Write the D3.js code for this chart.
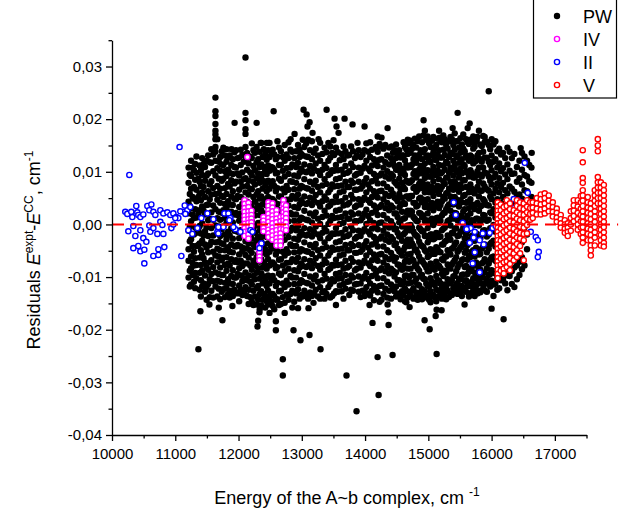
<!DOCTYPE html>
<html lang="en">
<head>
<meta charset="utf-8">
<title>Residuals of the A~b complex</title>
<script src="https://d3js.org/d3.v7.min.js"></script>
<style>
  body { margin: 0; background: #fff; }
  text { font-family: Arial, "Liberation Sans", sans-serif; fill: #000; }
  .tick text { font-size: 15px; }
  .axis path, .axis line { stroke: #000; stroke-width: 1.3; }
  .title { font-size: 18px; }
  .legend text { font-size: 18px; }
</style>
</head>
<body>
<div id="vis"></div>
<script>
const width = 632, height = 515;

// tick values
const xTicks = [10000, 11000, 12000, 13000, 14000, 15000, 16000, 17000];
const xMinor = [10500, 11500, 12500, 13500, 14500, 15500, 16500, 17500];
const yTicks = [-0.04, -0.03, -0.02, -0.01, 0.00, 0.01, 0.02, 0.03];
const yMinor = [-0.035, -0.025, -0.015, -0.005, 0.005, 0.015, 0.025, 0.035];

const seriesNames = ["PW", "IV", "II", "V"];

// PW : [energy, [residuals at that energy]]
const pwBands = [
  [11210, [.0108,.0079,.0043,.0021,-.0012,-.0047,-.0069,-.0101]],
  [11250, [.0121,.0092,.0068,.0031,.0006,-.0028,-.0061,-.0083,-.0114]],
  [11295, [.0103,.0071,.0049,.0012,-.0019,-.0052,-.0078,-.0109]],
  [11335, [.0129,.0098,.0066,.0044,.0013,-.0016,-.0041,-.0077,-.0102]],
  [11366, [.0087,.0052,.0021,-.0008,-.0039]],
  [11385, [.0112,.0081,.0058,.0027,-.0003,-.0036,-.0063,-.0092,-.0124]],
  [11425, [.0126,.0094,.0061,.0034,.0002,-.0031,-.0057,-.0088,-.0118]],
  [11470, [.0109,.0083,.0052,.0019,-.0013,-.0038,-.0072,-.0097,-.0128]],
  [11520, [.0131,.0097,.0063,.0038,.0008,-.0022,-.0053,-.0086,-.0113]],
  [11570, [.0143,.0117,.0082,.0057,.0023,-.0007,-.0033,-.0068,-.0094,-.0126]],
  [11635, [.0241,.0215,.0206,.0191,.0178,.0171,.0162,.0147,.0138,.0121,.0093,.0058,.0029,-.0002,-.0034,-.0059,-.0091,-.0118]],
  [11665, [.0162,.0107,.0073,.0047,.0012,-.0017,-.0046,-.0072,-.0107,-.0137]],
  [11710, [.0128,.0102,.0068,.0041,.0009,-.0022,-.0049,-.0082,-.0109,-.0142]],
  [11760, [.0146,.0113,.0087,.0052,.0027,-.0004,-.0037,-.0063,-.0096,-.0123]],
  [11810, [.0143,.0119,.0092,.0058,.0031,.0003,-.0028,-.0062,-.0088,-.0121]],
  [11860, [.0131,.0098,.0072,.0038,.0011,-.0021,-.0052,-.0078,-.0112,-.0139]],
  [11910, [.0124,.0096,.0063,.0037,.0004,-.0027,-.0053,-.0087,-.0113,-.0136]],
  [11960, [.0141,.0108,.0081,.0048,.0022,-.0011,-.0042,-.0068,-.0101,-.0129]],
  [12010, [.0127,.0093,.0066,.0033,.0007,-.0026,-.0057,-.0083,-.0116,-.0146]],
  [12060, [.0132,.0099,.0072,.0039,.0011,-.0019,-.0051,-.0079,-.0108,-.0134]],
  [12110, [.0317,.0212,.0198,.0181,.0172,.0147,.0122,.0088,.0061,.0029,.0002,-.0032,-.0058,-.0091,-.0119]],
  [12160, [.0116,.0083,.0057,.0024,-.0006,-.0036,-.0063,-.0097,-.0124,-.0151]],
  [12210, [.0154,.0126,.0093,.0067,.0033,.0006,-.0027,-.0054,-.0086,-.0114,-.0147]],
  [12260, [.0136,.0103,.0076,.0043,.0017,-.0016,-.0043,-.0077,-.0104,-.0137]],
  [12310, [.0124,.0097,.0063,.0036,.0003,-.0024,-.0056,-.0083,-.0117,-.0143,-.0183]],
  [12360, [.0155,.0114,.0087,.0053,.0027,-.0006,-.0033,-.0066,-.0093,-.0127,-.0154]],
  [12400, [.0143,.0109,.0082,.0048,.0021,-.0012,-.0038,-.0072,-.0099,-.0132]],
  [12445, [.0155,.0123,.0096,.0063,.0036,.0003,-.0024,-.0057,-.0084,-.0117,-.0146]],
  [12490, [.0155,.0128,.0102,.0068,.0042,.0008,-.0018,-.0052,-.0078,-.0112,-.0138,-.0168]],
  [12540, [.0142,.0108,.0082,.0048,.0022,-.0012,-.0038,-.0072,-.0098,-.0132,-.0155]],
  [12590, [.0124,.0097,.0063,.0037,.0003,-.0023,-.0057,-.0083,-.0117,-.0143,-.0184,-.0201]],
  [12640, [.0146,.0113,.0087,.0053,.0027,-.0007,-.0033,-.0067,-.0093,-.0127,-.0153]],
  [12700, [.0128,.0102,.0068,.0042,.0008,-.0018,-.0052,-.0078,-.0112,-.0138,-.0256,-.0287]],
  [12760, [.0133,.0107,.0073,.0047,.0013,-.0013,-.0047,-.0073,-.0107,-.0133]],
  [12820, [.0142,.0108,.0082,.0048,.0022,-.0012,-.0038,-.0072,-.0098,-.0132]],
  [12880, [.0126,.0093,.0067,.0033,.0007,-.0027,-.0053,-.0087,-.0113,-.0147]],
  [12940, [.0151,.0117,.0091,.0057,.0031,-.0003,-.0029,-.0063,-.0089,-.0123,-.0159]],
  [12990, [.0134,.0106,.0073,.0046,.0013,-.0014,-.0047,-.0074,-.0106,-.0134]],
  [13040, [.0147,.0114,.0086,.0053,.0026,-.0007,-.0034,-.0066,-.0094,-.0126]],
  [13100, [.0161,.0128,.0101,.0068,.0041,.0008,-.0019,-.0052,-.0079,-.0112,-.0141]],
  [13160, [.0158,.0124,.0097,.0064,.0037,.0004,-.0023,-.0056,-.0083,-.0116,-.0136]],
  [13220, [.0144,.0116,.0083,.0056,.0023,-.0004,-.0037,-.0064,-.0097,-.0124]],
  [13290, [.0155,.0121,.0094,.0061,.0034,.0001,-.0026,-.0059,-.0086,-.0119,-.0141]],
  [13360, [.0146,.0113,.0086,.0053,.0026,-.0007,-.0034,-.0067,-.0094,-.0127,-.0141]],
  [13420, [.0155,.0121,.0094,.0061,.0034,.0001,-.0026,-.0059,-.0086,-.0119]],
  [13480, [.0136,.0103,.0076,.0043,.0016,-.0017,-.0044,-.0077,-.0104,-.0136]],
  [13540, [.0146,.0113,.0086,.0053,.0026,-.0007,-.0034,-.0067,-.0094,-.0127,-.0153]],
  [13600, [.0122,.0088,.0061,.0028,.0001,-.0032,-.0059,-.0092,-.0116]],
  [13660, [.0148,.0124,.0096,.0063,.0036,.0003,-.0024,-.0057,-.0084,-.0113]],
  [13720, [.0131,.0098,.0071,.0038,.0011,-.0022,-.0049,-.0082,-.0109]],
  [13780, [.0148,.0116,.0083,.0056,.0023,-.0004,-.0037,-.0064,-.0097,-.0124]],
  [13840, [.0126,.0093,.0066,.0033,.0006,-.0027,-.0054,-.0087,-.0114]],
  [13900, [.0141,.0108,.0081,.0048,.0021,-.0012,-.0039,-.0072,-.0099,-.0128]],
  [13960, [.0133,.0106,.0073,.0046,.0013,-.0014,-.0047,-.0074,-.0103,-.0126]],
  [14020, [.0154,.0121,.0088,.0061,.0028,.0001,-.0032,-.0059,-.0092,-.0119]],
  [14080, [.0156,.0128,.0101,.0068,.0041,.0008,-.0019,-.0052,-.0079,-.0112,-.0135]],
  [14140, [.0124,.0096,.0063,.0036,.0003,-.0024,-.0057,-.0084,-.0117,-.0144]],
  [14200, [.0167,.0138,.0111,.0078,.0051,.0018,-.0009,-.0042,-.0069,-.0102,-.0129]],
  [14260, [.0165,.0124,.0097,.0064,.0037,.0004,-.0023,-.0056,-.0083,-.0116,-.0143]],
  [14320, [.0151,.0118,.0091,.0058,.0031,-.0002,-.0029,-.0062,-.0089,-.0122]],
  [14380, [.0146,.0114,.0087,.0054,.0027,-.0006,-.0033,-.0066,-.0093,-.0126]],
  [14440, [.0136,.0119,.0092,.0059,.0032,-.0001,-.0028,-.0061,-.0088,-.0121]],
  [14490, [.0152,.0126,.0104,.0078,.0049,.0021,-.0008,-.0036,-.0063,-.0091,-.0118,-.0137]],
  [14540, [.0141,.0113,.0087,.0058,.0032,.0004,-.0023,-.0051,-.0077,-.0106,-.0131]],
  [14585, [.0131,.0106,.0079,.0051,.0024,-.0004,-.0031,-.0059,-.0086,-.0114,-.0127]],
  [14630, [.0147,.0122,.0094,.0067,.0039,.0012,-.0016,-.0043,-.0071,-.0098,-.0122,-.0146]],
  [14675, [.0161,.0134,.0108,.0081,.0053,.0026,-.0002,-.0029,-.0057,-.0084,-.0112,-.0139]],
  [14720, [.0159,.0136,.0109,.0081,.0054,.0026,-.0001,-.0029,-.0056,-.0084,-.0111,-.0136]],
  [14765, [.0151,.0124,.0096,.0069,.0041,.0014,-.0014,-.0041,-.0069,-.0096,-.0121,-.0141]],
  [14810, [.0146,.0117,.0089,.0062,.0034,.0007,-.0021,-.0048,-.0076,-.0103,-.0129]],
  [14855, [.0167,.0132,.0104,.0077,.0049,.0022,-.0006,-.0033,-.0061,-.0088,-.0116,-.0134]],
  [14900, [.0156,.0124,.0097,.0069,.0042,.0014,-.0013,-.0041,-.0068,-.0096,-.0123,-.0142]],
  [14945, [.0178,.0143,.0116,.0088,.0061,.0033,.0006,-.0022,-.0049,-.0077,-.0104,-.0127]],
  [14990, [.0161,.0131,.0103,.0076,.0048,.0021,-.0007,-.0034,-.0062,-.0089,-.0117,-.0136]],
  [15035, [.0147,.0118,.0091,.0063,.0036,.0008,-.0019,-.0047,-.0074,-.0102,-.0127,-.0148]],
  [15080, [.0166,.0137,.0109,.0082,.0054,.0027,-.0001,-.0028,-.0056,-.0083,-.0111,-.0134]],
  [15125, [.0151,.0122,.0094,.0067,.0039,.0012,-.0016,-.0043,-.0071,-.0098,-.0124,-.0146]],
  [15170, [.0178,.0141,.0113,.0086,.0058,.0031,.0003,-.0024,-.0052,-.0079,-.0107,-.0126]],
  [15215, [.0156,.0127,.0099,.0072,.0044,.0017,-.0011,-.0038,-.0066,-.0093,-.0119,-.0141]],
  [15260, [.0162,.0132,.0104,.0077,.0049,.0022,-.0006,-.0033,-.0061,-.0088,-.0114,-.0134]],
  [15305, [.0144,.0116,.0089,.0061,.0034,.0006,-.0021,-.0049,-.0076,-.0104,-.0126]],
  [15350, [.0166,.0136,.0108,.0081,.0053,.0026,-.0002,-.0029,-.0057,-.0084,-.0112,-.0131]],
  [15395, [.0151,.0121,.0093,.0066,.0038,.0011,-.0017,-.0044,-.0072,-.0099,-.0121]],
  [15440, [.0158,.0131,.0103,.0076,.0048,.0021,-.0007,-.0034,-.0062,-.0089,-.0114,-.0127]],
  [15485, [.0146,.0117,.0089,.0062,.0034,.0007,-.0021,-.0048,-.0076,-.0103,-.0121]],
  [15530, [.0152,.0124,.0097,.0069,.0042,.0014,-.0013,-.0041,-.0068,-.0096,-.0117,-.0136]],
  [15575, [.0139,.0111,.0084,.0056,.0029,.0001,-.0026,-.0054,-.0081,-.0107,-.0124]],
  [15620, [.0156,.0126,.0098,.0071,.0043,.0016,-.0012,-.0039,-.0067,-.0094,-.0116]],
  [15665, [.0161,.0131,.0103,.0076,.0048,.0021,-.0007,-.0034,-.0062,-.0089,-.0112,-.0134]],
  [15710, [.0167,.0144,.0116,.0089,.0061,.0034,.0006,-.0021,-.0049,-.0076,-.0102,-.0121]],
  [15755, [.0158,.0121,.0093,.0066,.0038,.0011,-.0017,-.0044,-.0072,-.0097,-.0116]],
  [15800, [.0178,.0136,.0108,.0081,.0053,.0026,-.0002,-.0029,-.0057,-.0084,-.0108,-.0126]],
  [15845, [.0149,.0119,.0091,.0064,.0036,.0009,-.0019,-.0046,-.0074,-.0099,-.0112]],
  [15890, [.0156,.0127,.0099,.0072,.0044,.0017,-.0011,-.0038,-.0066,-.0091,-.0113,-.0125]],
  [15955, [.0253,.0151,.0119,.0091,.0064,.0036,.0009,-.0019,-.0046,-.0074,-.0096,-.0112]],
  [16000, [.0131,.0103,.0076,.0048,.0021,-.0007,-.0034,-.0062,-.0087,-.0107,-.0160]],
  [16060, [.0158,.0124,.0096,.0068,.0041,.0013,-.0014,-.0042,-.0069,-.0093,-.0112]],
  [16120, [.0144,.0116,.0088,.0061,.0033,.0006,-.0022,-.0049,-.0077,-.0098,-.0121]],
  [16180, [.0136,.0107,.0079,.0052,.0024,-.0003,-.0031,-.0058,-.0086,-.0104]],
  [16250, [.0146,.0114,.0086,.0059,.0031,.0004,-.0024,-.0051,-.0079,-.0097,-.0125]],
  [16320, [.0126,.0096,.0068,.0041,.0013,-.0014,-.0042,-.0069,-.0089,-.0113]],
  [16400, [.0109,.0081,.0054,.0026,-.0001,-.0029,-.0056,-.0078,-.0104]],
  [16480, [.0136,.0104,.0076,.0049,.0021,-.0006,-.0034,-.0062,-.0085]],
  [16560, [.0121,.0091,.0063,.0036,.0008,-.0019,-.0047]],
  [16630, [.0108,.0079,.0052,.0028]]
];

// PW, further lines read between the bands above
const pwBandsFill = [
  [11230, [.0095,.0058,.0035,-.0004,-.0032,-.0088,-.0118]],
  [11273, [.0108,.0052,.0019,-.0041,-.0073,-.0096]],
  [11315, [.0115,.0085,.0029,-.0006,-.0064,-.0092,-.0121]],
  [11405, [.0103,.0073,.0046,-.0017,-.0049,-.0077,-.0106,-.0137]],
  [11447, [.0115,.0071,.0026,-.0021,-.0064,-.0112]],
  [11495, [.0121,.0093,.0037,-.0006,-.0044,-.0081,-.0119,-.0143]],
  [11545, [.0118,.0076,.0048,.0011,-.0039,-.0072,-.0104,-.0138]],
  [11600, [.0133,.0101,.0069,.0036,.0009,-.0021,-.0052,-.0081,-.0108,-.0139]],
  [11688, [.0119,.0087,.0059,.0024,-.0004,-.0033,-.0061,-.0094,-.0122,-.0158]],
  [11735, [.0139,.0114,.0083,.0054,.0022,-.0009,-.0036,-.0068,-.0096,-.0128]],
  [11785, [.0131,.0101,.0069,.0039,.0012,-.0019,-.0049,-.0077,-.0111,-.0138]],
  [11835, [.0127,.0104,.0077,.0044,.0016,-.0014,-.0043,-.0074,-.0104,-.0132]],
  [11885, [.0113,.0084,.0053,.0024,-.0007,-.0038,-.0066,-.0098,-.0126]],
  [11935, [.0137,.0109,.0078,.0049,.0019,-.0012,-.0041,-.0071,-.0101,-.0124]],
  [11985, [.0126,.0097,.0054,.0018,-.0014,-.0039,-.0072,-.0094,-.0131]],
  [12035, [.0142,.0113,.0081,.0052,.0021,-.0011,-.0042,-.0069,-.0097,-.0124]],
  [12085, [.0119,.0086,.0047,.0014,-.0016,-.0045,-.0074,-.0102,-.0128]],
  [12135, [.0136,.0104,.0073,.0043,.0014,-.0017,-.0046,-.0074,-.0106,-.0136]],
  [12185, [.0129,.0099,.0068,.0039,.0008,-.0021,-.0049,-.0078,-.0109,-.0138]],
  [12235, [.0141,.0111,.0081,.0052,.0021,-.0011,-.0038,-.0069,-.0098,-.0126,-.0153]],
  [12285, [.0147,.0118,.0088,.0057,.0029,-.0002,-.0031,-.0062,-.0092,-.0121,-.0152]],
  [12335, [.0138,.0109,.0079,.0049,.0018,-.0012,-.0041,-.0071,-.0103,-.0132,-.0161]],
  [12380, [.0128,.0096,.0068,.0038,.0006,-.0022,-.0054,-.0082,-.0112,-.0143]],
  [12422, [.0134,.0103,.0074,.0043,.0012,-.0019,-.0047,-.0078,-.0106,-.0136,-.0158]],
  [12467, [.0141,.0112,.0083,.0052,.0023,-.0007,-.0036,-.0066,-.0097,-.0126,-.0152]],
  [12515, [.0138,.0109,.0077,.0049,.0018,-.0013,-.0043,-.0073,-.0103,-.0132,-.0147]],
  [12565, [.0133,.0104,.0073,.0044,.0014,-.0016,-.0046,-.0076,-.0106,-.0136,-.0161]],
  [12615, [.0158,.0128,.0098,.0069,.0039,.0009,-.0021,-.0051,-.0081,-.0111,-.0142]],
  [12670, [.0139,.0113,.0083,.0053,.0024,-.0006,-.0036,-.0066,-.0096,-.0126,-.0151]],
  [12730, [.0151,.0121,.0091,.0061,.0031,.0001,-.0029,-.0059,-.0089,-.0119,-.0149,-.0168]],
  [12790, [.0156,.0126,.0096,.0066,.0036,.0006,-.0024,-.0054,-.0084,-.0114,-.0143]],
  [12850, [.0138,.0114,.0081,.0054,.0019,-.0006,-.0041,-.0066,-.0101,-.0126,-.0158]],
  [12910, [.0139,.0109,.0079,.0049,.0019,-.0011,-.0041,-.0071,-.0101,-.0131]],
  [12965, [.0142,.0128,.0098,.0068,.0038,.0008,-.0022,-.0052,-.0082,-.0112,-.0141]],
  [13015, [.0161,.0131,.0101,.0071,.0041,.0011,-.0019,-.0049,-.0079,-.0109,-.0137]],
  [13070, [.0154,.0129,.0099,.0069,.0039,.0009,-.0021,-.0051,-.0081,-.0111,-.0133]],
  [13130, [.0141,.0111,.0081,.0051,.0021,-.0009,-.0039,-.0069,-.0099,-.0129]],
  [13190, [.0136,.0106,.0076,.0046,.0016,-.0014,-.0044,-.0074,-.0104,-.0131]],
  [13255, [.0131,.0101,.0071,.0041,.0011,-.0019,-.0049,-.0079,-.0109,-.0137]],
  [13325, [.0134,.0104,.0074,.0044,.0014,-.0016,-.0046,-.0076,-.0106,-.0129]],
  [13390, [.0137,.0107,.0077,.0047,.0017,-.0013,-.0043,-.0073,-.0103,-.0132]],
  [13450, [.0148,.0127,.0097,.0067,.0037,.0007,-.0023,-.0053,-.0083,-.0113,-.0139]],
  [13510, [.0132,.0102,.0072,.0042,.0012,-.0018,-.0048,-.0078,-.0108,-.0131]],
  [13570, [.0137,.0103,.0073,.0043,.0013,-.0017,-.0047,-.0077,-.0103,-.0128]],
  [13630, [.0134,.0104,.0074,.0044,.0014,-.0016,-.0046,-.0076,-.0102,-.0127]],
  [13690, [.0139,.0111,.0081,.0051,.0021,-.0009,-.0039,-.0069,-.0096,-.0122]],
  [13750, [.0132,.0101,.0071,.0041,.0011,-.0019,-.0049,-.0079,-.0108,-.0134]],
  [13810, [.0139,.0109,.0079,.0049,.0019,-.0011,-.0041,-.0071,-.0101,-.0126]],
  [13870, [.0131,.0096,.0066,.0036,.0006,-.0024,-.0054,-.0084,-.0113]],
  [13930, [.0128,.0098,.0068,.0038,.0008,-.0022,-.0052,-.0082,-.0112,-.0138]],
  [13990, [.0141,.0111,.0081,.0051,.0021,-.0009,-.0039,-.0069,-.0099,-.0127]],
  [14050, [.0138,.0106,.0076,.0046,.0016,-.0014,-.0044,-.0074,-.0104,-.0131]],
  [14110, [.0142,.0112,.0082,.0052,.0022,-.0008,-.0038,-.0068,-.0098,-.0126]],
  [14170, [.0147,.0117,.0087,.0057,.0027,-.0003,-.0033,-.0063,-.0093,-.0123]],
  [14230, [.0153,.0123,.0093,.0063,.0033,.0003,-.0027,-.0057,-.0087,-.0117,-.0147]],
  [14290, [.0144,.0108,.0078,.0048,.0018,-.0012,-.0042,-.0072,-.0102,-.0132]],
  [14350, [.0131,.0101,.0071,.0041,.0011,-.0019,-.0049,-.0079,-.0109,-.0139]],
  [14410, [.0126,.0096,.0066,.0036,.0006,-.0024,-.0054,-.0084,-.0114,-.0141]],
  [14465, [.0141,.0111,.0081,.0051,.0021,-.0009,-.0039,-.0069,-.0099,-.0127]],
  [14515, [.0134,.0104,.0074,.0044,.0014,-.0016,-.0046,-.0076,-.0106,-.0133]],
  [14562, [.0127,.0097,.0067,.0037,.0007,-.0023,-.0053,-.0083,-.0113,-.0142]],
  [14607, [.0131,.0101,.0071,.0041,.0011,-.0019,-.0049,-.0079,-.0108,-.0134]],
  [14652, [.0143,.0113,.0083,.0053,.0023,-.0007,-.0037,-.0067,-.0097,-.0126,-.0148]],
  [14697, [.0139,.0109,.0079,.0049,.0019,-.0011,-.0041,-.0071,-.0101,-.0129]],
  [14742, [.0144,.0114,.0084,.0054,.0024,-.0006,-.0036,-.0066,-.0096,-.0126]],
  [14787, [.0163,.0131,.0101,.0071,.0041,.0011,-.0019,-.0049,-.0079,-.0109,-.0138]],
  [14832, [.0158,.0126,.0096,.0066,.0036,.0006,-.0024,-.0054,-.0084,-.0114,-.0143]],
  [14877, [.0141,.0111,.0081,.0051,.0021,-.0009,-.0039,-.0069,-.0099,-.0129]],
  [14922, [.0169,.0137,.0107,.0077,.0047,.0017,-.0013,-.0043,-.0073,-.0103,-.0132]],
  [14967, [.0161,.0128,.0098,.0068,.0038,.0008,-.0022,-.0052,-.0082,-.0112,-.0139]],
  [15012, [.0154,.0121,.0091,.0061,.0031,.0001,-.0029,-.0059,-.0089,-.0118,-.0143]],
  [15057, [.0159,.0131,.0101,.0071,.0041,.0011,-.0019,-.0049,-.0079,-.0109,-.0136]],
  [15102, [.0146,.0124,.0094,.0064,.0034,.0004,-.0026,-.0056,-.0086,-.0115,-.0139]],
  [15147, [.0163,.0133,.0103,.0073,.0043,.0013,-.0017,-.0047,-.0077,-.0106,-.0137]],
  [15192, [.0158,.0127,.0097,.0067,.0037,.0007,-.0023,-.0053,-.0083,-.0112,-.0133]],
  [15237, [.0169,.0142,.0112,.0082,.0052,.0022,-.0008,-.0038,-.0068,-.0098,-.0127]],
  [15282, [.0151,.0119,.0089,.0059,.0029,-.0001,-.0031,-.0061,-.0091,-.0119,-.0142]],
  [15327, [.0158,.0128,.0098,.0068,.0038,.0008,-.0022,-.0052,-.0082,-.0111,-.0138]],
  [15372, [.0162,.0134,.0104,.0074,.0044,.0014,-.0016,-.0046,-.0076,-.0106,-.0134]],
  [15417, [.0173,.0142,.0112,.0082,.0052,.0022,-.0008,-.0038,-.0068,-.0098,-.0124]],
  [15462, [.0158,.0128,.0098,.0068,.0038,.0008,-.0022,-.0052,-.0082,-.0111,-.0132]],
  [15507, [.0164,.0136,.0106,.0076,.0046,.0016,-.0014,-.0044,-.0074,-.0104,-.0128]],
  [15552, [.0171,.0144,.0114,.0084,.0054,.0024,-.0006,-.0036,-.0066,-.0095,-.0121]],
  [15597, [.0162,.0131,.0101,.0071,.0041,.0011,-.0019,-.0049,-.0079,-.0106,-.0128]],
  [15642, [.0153,.0121,.0091,.0061,.0031,.0001,-.0029,-.0059,-.0089,-.0117,-.0137]],
  [15687, [.0157,.0128,.0098,.0068,.0038,.0008,-.0022,-.0052,-.0082,-.0109,-.0129]],
  [15732, [.0148,.0119,.0089,.0059,.0029,-.0001,-.0031,-.0061,-.0091,-.0115,-.0136]],
  [15777, [.0166,.0131,.0101,.0071,.0041,.0011,-.0019,-.0049,-.0079,-.0104,-.0131]],
  [15822, [.0152,.0124,.0094,.0064,.0034,.0004,-.0026,-.0056,-.0086,-.0112,-.0129]],
  [15867, [.0168,.0138,.0108,.0078,.0048,.0018,-.0012,-.0042,-.0072,-.0101,-.0122]],
  [15925, [.0157,.0127,.0097,.0067,.0037,.0007,-.0023,-.0053,-.0083,-.0106,-.0128]],
  [15978, [.0143,.0113,.0083,.0053,.0023,-.0007,-.0037,-.0067,-.0094,-.0118]],
  [16030, [.0152,.0119,.0089,.0059,.0029,-.0001,-.0031,-.0061,-.0089,-.0114,-.0136]],
  [16090, [.0139,.0108,.0078,.0048,.0018,-.0012,-.0042,-.0072,-.0101,-.0124]],
  [16150, [.0133,.0101,.0071,.0041,.0011,-.0019,-.0049,-.0079,-.0106]],
  [16215, [.0126,.0095,.0065,.0035,.0005,-.0025,-.0055,-.0085,-.0112]],
  [16285, [.0138,.0102,.0072,.0042,-.0018,-.0076,-.0098]],
  [16360, [.0134,.0097,.0062,.0031,-.0037,-.0082,-.0119]],
  [16440, [.0121,.0088,.0057,-.0011,-.0071,-.0096]],
  [16520, [.0129,.0094,.0065,-.0006,-.0078]],
  [16595, [.0113,.0082,.0047]]
];

// PW scattered points outside the dense band: [energy, residual]
const pwOutliers = [
  [11938,.0193],[12286,.0193],[12555,.0215],[12350,.0155],[12476,.0155],[11889,.0143],
  [12823,.0162],[12886,.0172],[13028,.0218],[13076,.0209],[13123,.0194],[13090,.0186],
  [13170,.0174],[13265,.0162],[13392,.0218],[13518,.0201],[13676,.0201],[13549,.0186],
  [13581,.0174],[13502,.0160],[13802,.0190],[13992,.0186],[13881,.0155],[14356,.0183],
  [14245,.0148],[14419,.0148],[14925,.0198],[15463,.0212],[15653,.0192],[15384,.0183],
  [15622,.0183],[15891,.0166],[16002,.0162],[15764,.0160],[15179,.0165],[14989,.0167],
  [14609,.0156],[14688,.0154],[16460,.0145],[16634,.0136],
  [11366,-.0237],[11397,-.0165],[11540,-.0152],[11745,-.0182],[11903,-.0155],[12299,-.0194],
  [12331,-.0167],[12869,-.0201],[12979,-.0220],[13122,-.0210],[13296,-.0237],[13106,-.0159],
  [13185,-.0149],[13659,-.0141],[13707,-.0287],[13865,-.0355],[13992,-.0136],[14071,-.0153],
  [14118,-.0187],[14198,-.0252],[14214,-.0324],[14356,-.0152],[14372,-.0167],[14372,-.0191],
  [14435,-.0248],[14704,-.0157],[14941,-.0182],[15021,-.0199],[15116,-.0174],[15131,-.0162],
  [15210,-.0163],[15131,-.0246],[15573,-.0152],[15731,-.0125],[16190,-.0180]
];

// IV : [energy, [residuals]]
const ivBands = [
  [12095, [.0046,.0039,.0031,.0024,.0016,.0009,.0001,-.0007,-.0014,-.0022]],
  [12140, [.0128]],
  [12157, [.0041,.0033,.0025,.0017,.0010,.0003,-.0005,-.0012,-.0019,-.0027]],
  [12204, [.0026,.0018,.0011,.0004,-.0003,-.0011]],
  [12331, [-.0040,-.0047,-.0054,-.0061,-.0068]],
  [12394, [.0014,.0007,.0000,-.0007,-.0013]],
  [12473, [.0042,.0035,.0027,.0020,.0012,.0005,-.0003,-.0010,-.0017,-.0024]],
  [12536, [.0040,.0032,.0025,.0017,.0010,.0002,-.0006,-.0013,-.0021,-.0029]],
  [12600, [.0027,.0019,.0011,.0004,-.0004,-.0011,-.0019,-.0026,-.0033,-.0040]],
  [12663, [.0014,.0006,-.0002,-.0009,-.0017,-.0025,-.0032,-.0040]],
  [12710, [.0046,.0038,.0030,.0023,.0015,.0007,-.0001,-.0009]],
  [12750, [.0036,.0028,.0020,.0012,.0004,-.0004,-.0011]]
];

// II : [energy, residual]
const iiPoints = [
  [10274,.0094],[10210,.0024],[10242,.0020],[10305,.0024],[10321,.0014],[10384,.0035],
  [10400,.0023],[10416,.0018],[10448,.0014],[10495,.0019],[10559,.0035],[10622,.0038],
  [10590,.0027],[10654,.0024],[10685,.0018],[10764,.0027],[10812,.0021],[10875,.0023],
  [10922,.0018],[10970,.0021],[11017,.0014],[11049,.0012],[11128,.0024],[11191,.0027],
  [11238,.0033],[10258,-.0013],[10337,-.0003],[10369,-.0022],[10448,-.0011],[10495,-.0026],
  [10543,-.0033],[10590,-.0002],[10606,-.0014],[10654,-.0007],[10717,-.0018],[10764,.0005],
  [10796,-.0001],[10812,-.0018],[10938,-.0007],[10970,.0000],[10337,-.0045],[10416,-.0041],
  [10448,-.0051],[10511,-.0048],[10653,-.0060],[10733,-.0047],[10733,-.0058],[10827,-.0043],
  [10511,-.0074],[11096,-.0060],[11207,-.0011],[11270,-.0018],[11068,.0147],
  [11000,.0012],[11080,.0025],[11150,.0036],[11160,.0020],
  [11350,-.0007],[11413,.0012],[11508,.0021],[11603,.0010],[11666,-.0014],[11682,-.0005],
  [11761,-.0005],[11777,.0021],[11840,.0021],[11872,.0012],[11951,-.0009],[12188,-.0011],
  [12220,-.0014],[12030,-.0014],[12362,-.0036],[12331,-.0045],[11856,.0008],[11919,-.0005],
  [11680,-.0017],
  [15400,.0042],[15432,.0018],[15543,.0003],[15606,-.0007],[15669,-.0007],[15733,-.0014],
  [15606,-.0009],[15717,-.0025],[15654,-.0035],[15733,-.0053],[15701,-.0074],[15812,-.0091],
  [15860,-.0017],[15812,-.0030],[15875,-.0038],[15970,-.0016],[16017,-.0007],[16065,-.0003],
  [16524,.0117],[16571,.0060],[16350,.0048],[16413,.0046],[16460,.0042],[16302,.0033],
  [16350,.0031],[16430,.0032],[16492,.0031],[16223,.0021],[16286,.0018],[16413,.0014],
  [16492,.0021],[16255,.0008],[16508,.0012],[16619,-.0014],[16698,-.0024],[16730,-.0030],
  [16746,-.0052],[16730,-.0062],[16223,.0005]
];

// V : [energy, [residuals]]
const vBands = [
  [16097, [.0042,.0034,.0026,.0018,.0010,.0002,-.0006,-.0014,-.0022,-.0030,-.0038,-.0046,-.0054,-.0062,-.0070,-.0078,-.0086,-.0094,-.0102]],
  [16144, [.0038,.0027,.0015,.0004,-.0008,-.0019,-.0031,-.0042,-.0053,-.0065,-.0076,-.0088]],
  [16192, [.0033,.0021,.0010,-.0002,-.0014,-.0026,-.0037,-.0049,-.0061,-.0072,-.0084,-.0093]],
  [16240, [.0046,.0035,.0024,.0012,.0001,-.0011,-.0023,-.0034,-.0046,-.0058,-.0070,-.0081]],
  [16290, [.0040,.0029,.0017,.0006,-.0006,-.0017,-.0029,-.0041,-.0052,-.0064,-.0075,-.0087]],
  [16350, [.0027,.0016,.0004,-.0008,-.0020,-.0031,-.0043,-.0055,-.0068]],
  [16400, [.0046,.0035,.0023,.0011,-.0001,-.0013,-.0025,-.0037,-.0049,-.0062]],
  [16450, [.0042,.0031,.0019,.0008,-.0004,-.0016,-.0027,-.0041,-.0055]],
  [16508, [.0040,.0029,.0018,.0006,-.0006,-.0018,-.0030,-.0068]],
  [16560, [.0046,.0034,.0023,.0011,-.0001,-.0017]],
  [16610, [.0042,.0031,.0020,.0009]],
  [16650, [.0042,.0032,.0022,.0012]],
  [16714, [.0050,.0040,.0030,.0019]],
  [16777, [.0057,.0048,.0038,.0028,.0019]],
  [16840, [.0059,.0050,.0040,.0030,.0021]],
  [16903, [.0055,.0045,.0035,.0025]],
  [16967, [.0042,.0033,.0024,.0015]],
  [17030, [.0030,.0022,.0013,.0005]],
  [17093, [.0018,.0010,.0002,-.0006]],
  [17157, [.0008,.0000,-.0008,-.0016]],
  [17204, [.0002,-.0006,-.0014,-.0022]],
  [17252, [.0025,.0012,.0000,-.0012]],
  [17299, [.0046,.0036,.0026,.0016,.0006]],
  [17362, [.0046,.0034,.0022,.0010,.0000,-.0010]],
  [17410, [.0054,.0042,.0030,.0018,.0006,-.0006,-.0018]],
  [17441, [.0141,.0118,.0088,.0079,.0065,.0055,.0045,.0035,.0025,.0015,.0005,-.0005,-.0015,-.0025,-.0035]],
  [17520, [.0052,.0042,.0032,.0022,.0012,.0002,-.0008,-.0018,-.0030]],
  [17568, [.0040,.0030,.0020,.0010,.0000,-.0010,-.0020,-.0030,-.0040,-.0049,-.0059]],
  [17631, [.0065,.0055,.0045,.0035,.0025,.0015,.0005,-.0005,-.0015,-.0025,-.0040]],
  [17679, [.0162,.0150,.0139,.0090,.0080,.0070,.0060,.0050,.0040]],
  [17726, [.0080,.0070,.0060,.0050,.0040,.0030,.0020,.0010,.0000,-.0010,-.0020,-.0030,-.0040]],
  [17774, [.0075,.0065,.0055,.0045,.0035,.0025,.0015,.0005,-.0005,-.0015,-.0025,-.0035,-.0042]]
];

// flatten band lists to points
const flat = bands => bands.flatMap(b => b[1].map(r => [b[0], r]));
const pwPoints = flat(pwBands.concat(pwBandsFill)).concat(pwOutliers);
const ivPoints = flat(ivBands);
const vPoints = flat(vBands);

const xScale = d3.scaleLinear().domain([10000, 17500]).range([112, 586.5]);
const yScale = d3.scaleLinear().domain([-0.04, 0.035]).range([435, 40.2]);

const svg = d3.select("#vis").append("svg")
  .attr("width", width).attr("height", height);

// points
svg.append("g").selectAll("circle").data(pwPoints).enter().append("circle")
  .attr("cx", d => xScale(d[0])).attr("cy", d => yScale(d[1]))
  .attr("r", 3.2).attr("fill", "#000");

function openSeries(points, color) {
  svg.append("g").selectAll("circle").data(points).enter().append("circle")
    .attr("cx", d => xScale(d[0])).attr("cy", d => yScale(d[1]))
    .attr("r", 2.6).attr("fill", "#fff")
    .attr("stroke", color).attr("stroke-width", 1.4);
}
openSeries(ivPoints, "#ff00ff");
openSeries(iiPoints, "#0000ff");
openSeries(vPoints, "#ff0000");

// zero line
svg.append("line")
  .attr("x1", xScale(10000) + 1).attr("x2", xScale(18000))
  .attr("y1", yScale(0)).attr("y2", yScale(0))
  .attr("stroke", "#ff0000").attr("stroke-width", 2)
  .attr("stroke-dasharray", "11,7");

// axes
const fmt = d => d.toFixed(2).replace(".", ",").replace("-0,00", "0,00");

const gx = svg.append("g").attr("class", "axis")
  .attr("transform", "translate(0," + yScale(-0.04) + ")")
  .call(d3.axisBottom(xScale).tickValues(xTicks).tickSize(6).tickSizeOuter(0).tickPadding(4).tickFormat(d3.format("d")));
gx.selectAll(".tick text").attr("dy", "0.9em");
svg.append("g").attr("class", "axis")
  .attr("transform", "translate(0," + yScale(-0.04) + ")")
  .call(d3.axisBottom(xScale).tickValues(xMinor).tickSize(3.5).tickSizeOuter(0).tickFormat(""))
  .select(".domain").remove();

svg.append("g").attr("class", "axis")
  .attr("transform", "translate(" + xScale(10000) + ",0)")
  .call(d3.axisLeft(yScale).tickValues(yTicks).tickSize(6).tickSizeOuter(0).tickPadding(4).tickFormat(fmt));
svg.append("g").attr("class", "axis")
  .attr("transform", "translate(" + xScale(10000) + ",0)")
  .call(d3.axisLeft(yScale).tickValues(yMinor).tickSize(3.5).tickSizeOuter(0).tickFormat(""))
  .select(".domain").remove();

// axis titles
const yt = svg.append("text").attr("class", "title")
  .attr("transform", "rotate(-90)")
  .attr("x", -250).attr("y", 40)
  .attr("text-anchor", "middle");
yt.append("tspan").text("Residuals ");
yt.append("tspan").attr("font-style", "italic").text("E");
yt.append("tspan").attr("dy", -7).attr("font-size", 12).text("expt");
yt.append("tspan").attr("dy", 7).text("-");
yt.append("tspan").attr("font-style", "italic").text("E");
yt.append("tspan").attr("dy", -7).attr("font-size", 12).text("CC");
yt.append("tspan").attr("dy", 7).text(", cm");
yt.append("tspan").attr("dy", -7).attr("font-size", 12).text("-1");

const xt = svg.append("text").attr("class", "title")
  .attr("x", 347).attr("y", 504)
  .attr("text-anchor", "middle");
xt.append("tspan").text("Energy of the A~b complex, cm ");
xt.append("tspan").attr("dy", -8).attr("font-size", 12).text("-1");

// legend
const legend = svg.append("g").attr("class", "legend");
legend.append("rect")
  .attr("x", 533.5).attr("y", -1).attr("width", 83).attr("height", 99)
  .attr("fill", "#fff").attr("stroke", "#000").attr("stroke-width", 1.2);
const lColors = ["#000", "#ff00ff", "#0000ff", "#ff0000"];
seriesNames.forEach((name, i) => {
  const cy = 16 + i * 23;
  if (i === 0) {
    legend.append("circle").attr("cx", 557).attr("cy", cy).attr("r", 3.2).attr("fill", "#000");
  } else {
    legend.append("circle").attr("cx", 557).attr("cy", cy).attr("r", 2.6)
      .attr("fill", "#fff").attr("stroke", lColors[i]).attr("stroke-width", 1.4);
  }
  legend.append("text").attr("x", 583).attr("y", cy + 7).text(name);
});
</script>
</body>
</html>
